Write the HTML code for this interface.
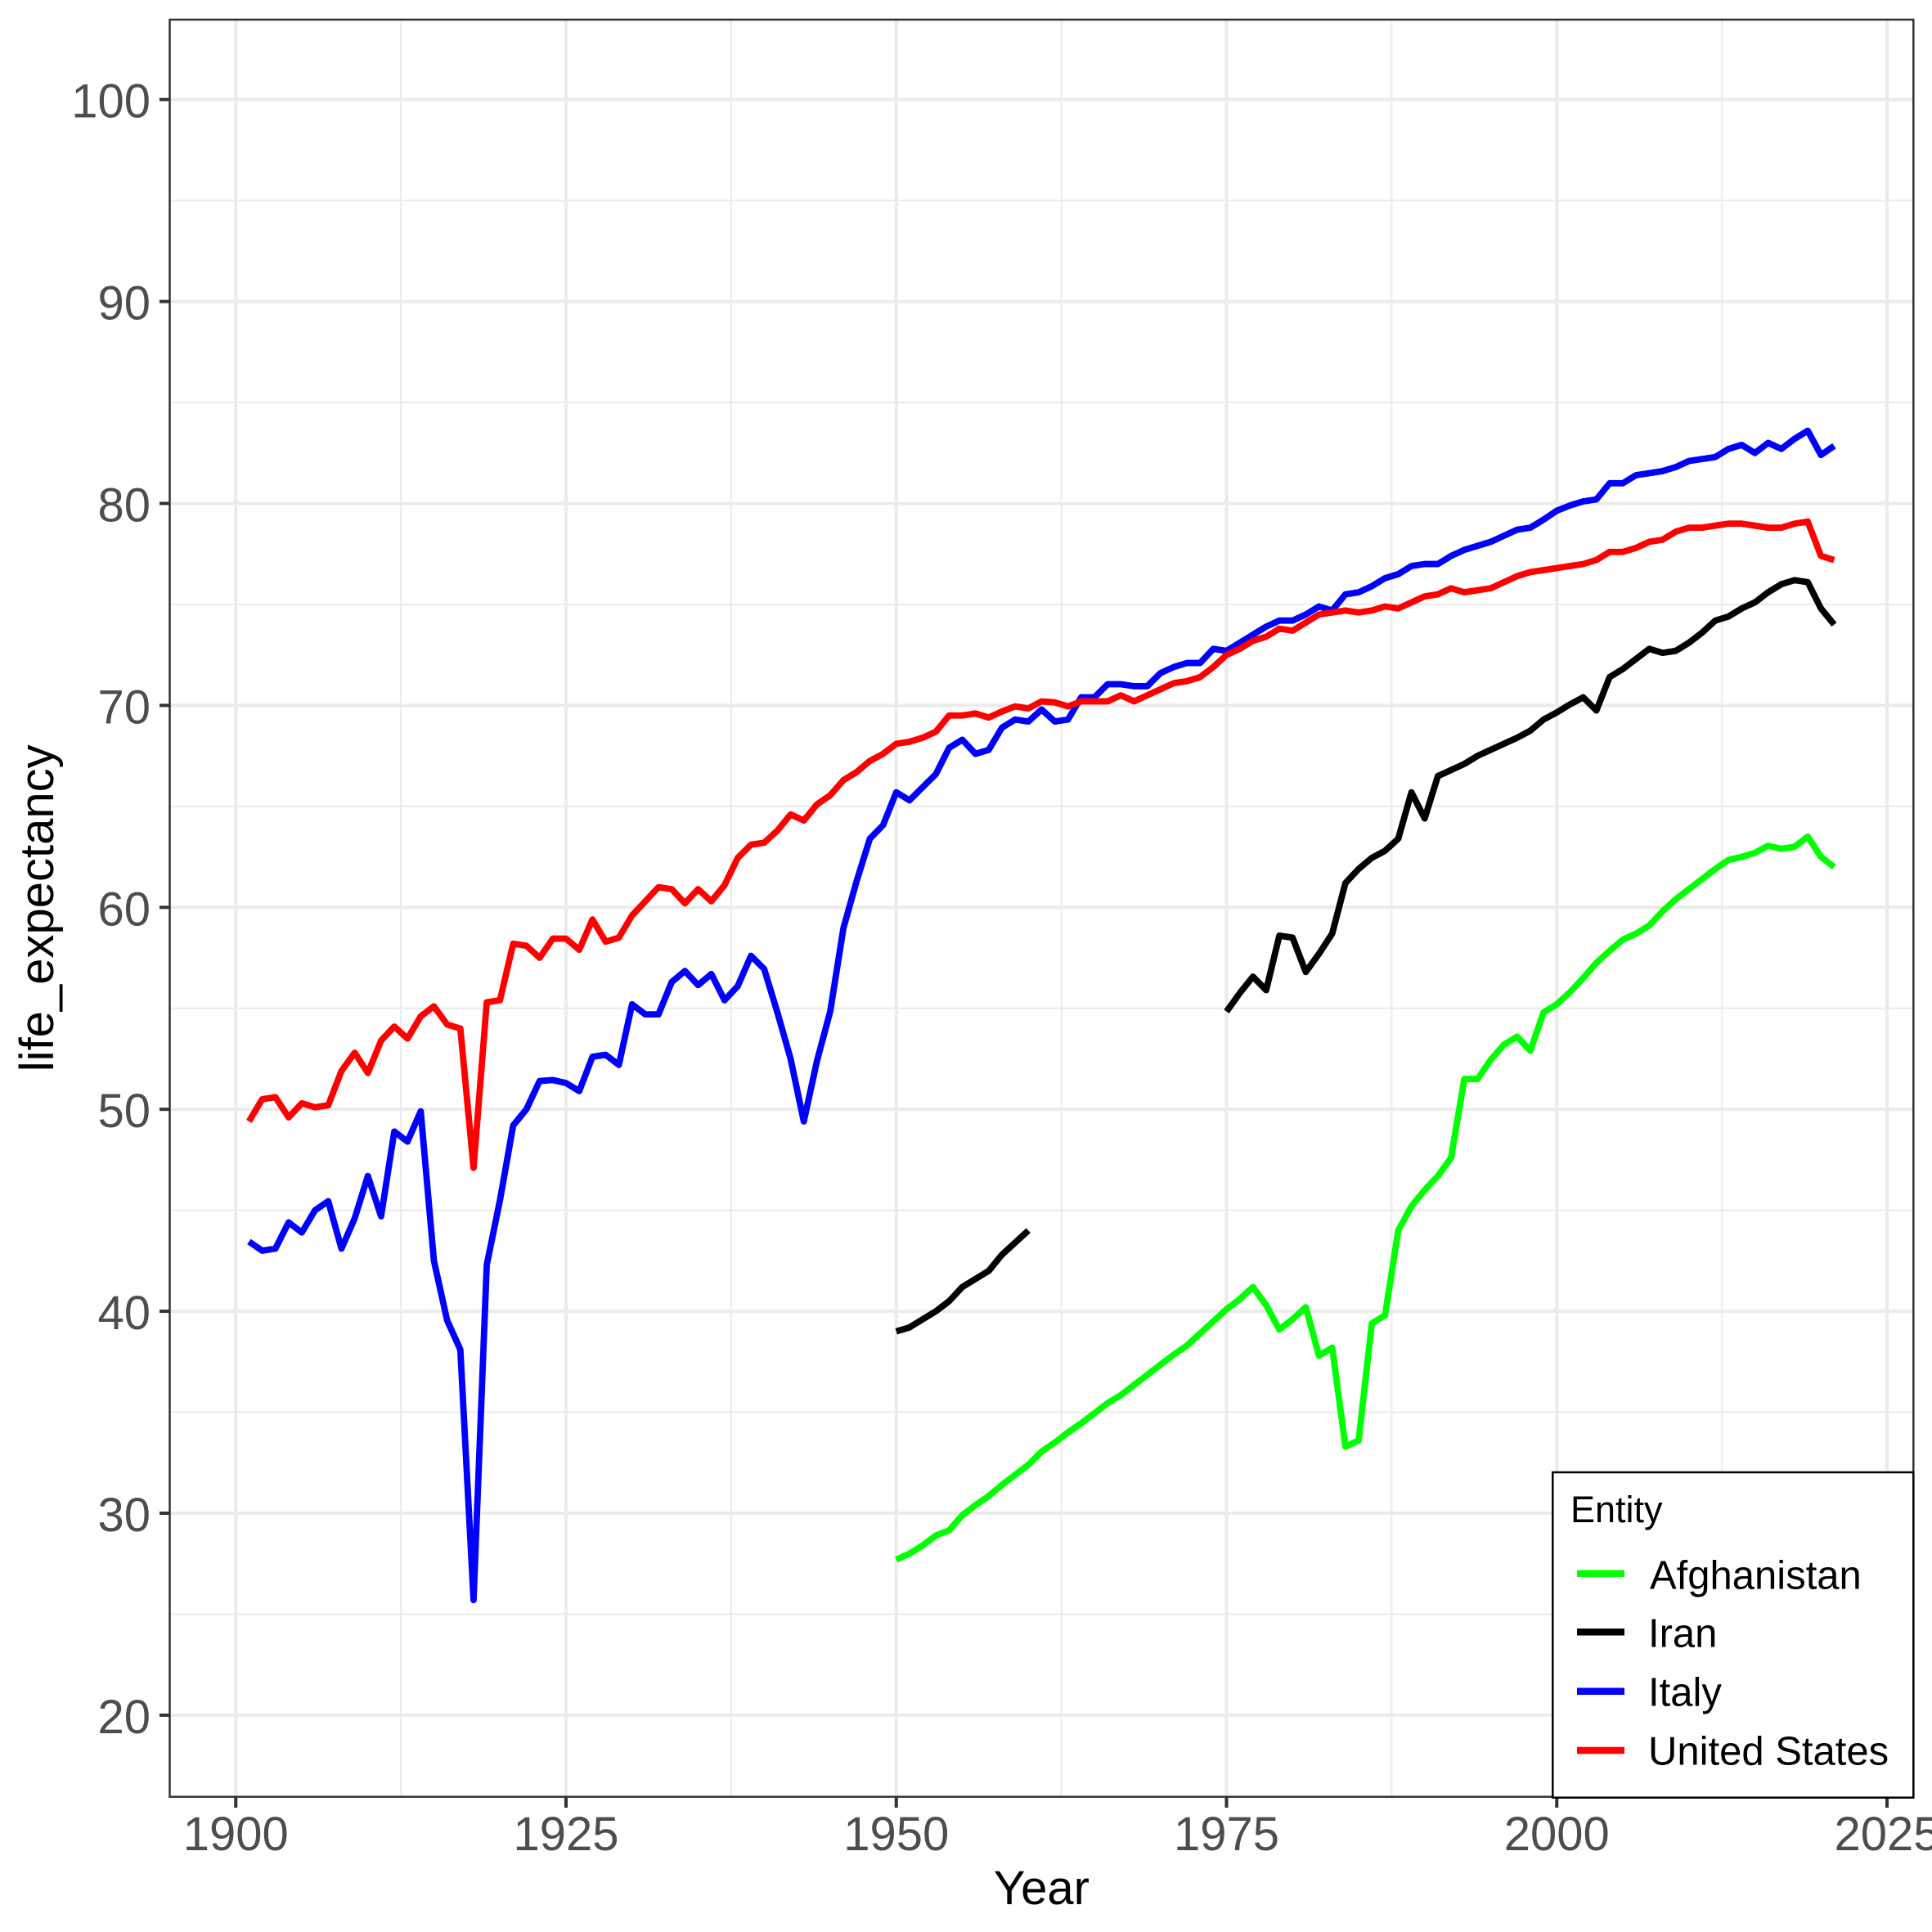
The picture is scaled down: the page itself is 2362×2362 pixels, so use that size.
<!DOCTYPE html>
<html>
<head>
<meta charset="utf-8">
<style>
html,body{margin:0;padding:0;background:#fff;}
svg{display:block;}
text{font-family:"Liberation Sans",Arial,Helvetica,sans-serif;}
</style>
</head>
<body>
<svg width="2362" height="2362" viewBox="0 0 2362 2362" xmlns="http://www.w3.org/2000/svg">
<rect x="0" y="0" width="2362" height="2362" fill="#fff"/>
<rect x="207.5" y="24" width="2131.8" height="2172.7" fill="#fff"/>
<g stroke="#EBEBEB" stroke-width="2" fill="none">
<line x1="207.5" x2="2339.3" y1="245.15" y2="245.15"/>
<line x1="207.5" x2="2339.3" y1="492.05" y2="492.05"/>
<line x1="207.5" x2="2339.3" y1="738.95" y2="738.95"/>
<line x1="207.5" x2="2339.3" y1="985.85" y2="985.85"/>
<line x1="207.5" x2="2339.3" y1="1232.75" y2="1232.75"/>
<line x1="207.5" x2="2339.3" y1="1479.65" y2="1479.65"/>
<line x1="207.5" x2="2339.3" y1="1726.55" y2="1726.55"/>
<line x1="207.5" x2="2339.3" y1="1973.45" y2="1973.45"/>
<line y1="24" y2="2196.7" x1="490.1" x2="490.1"/>
<line y1="24" y2="2196.7" x1="893.9" x2="893.9"/>
<line y1="24" y2="2196.7" x1="1297.6" x2="1297.6"/>
<line y1="24" y2="2196.7" x1="1701.4" x2="1701.4"/>
<line y1="24" y2="2196.7" x1="2105.1" x2="2105.1"/>
</g>
<g stroke="#EBEBEB" stroke-width="4" fill="none">
<line x1="207.5" x2="2339.3" y1="121.7" y2="121.7"/>
<line x1="207.5" x2="2339.3" y1="368.6" y2="368.6"/>
<line x1="207.5" x2="2339.3" y1="615.5" y2="615.5"/>
<line x1="207.5" x2="2339.3" y1="862.4" y2="862.4"/>
<line x1="207.5" x2="2339.3" y1="1109.3" y2="1109.3"/>
<line x1="207.5" x2="2339.3" y1="1356.2" y2="1356.2"/>
<line x1="207.5" x2="2339.3" y1="1603.1" y2="1603.1"/>
<line x1="207.5" x2="2339.3" y1="1850.0" y2="1850.0"/>
<line x1="207.5" x2="2339.3" y1="2096.9" y2="2096.9"/>
<line y1="24" y2="2196.7" x1="288.25" x2="288.25"/>
<line y1="24" y2="2196.7" x1="692.0" x2="692.0"/>
<line y1="24" y2="2196.7" x1="1095.75" x2="1095.75"/>
<line y1="24" y2="2196.7" x1="1499.5" x2="1499.5"/>
<line y1="24" y2="2196.7" x1="1903.25" x2="1903.25"/>
<line y1="24" y2="2196.7" x1="2307.0" x2="2307.0"/>
</g>

<g transform="matrix(16.15 0 0 -24.69 288.25 2590.7)" fill="none" stroke-linejoin="round" stroke-linecap="butt">
<polyline vector-effect="non-scaling-stroke" stroke="#00FF00" stroke-width="7.8" points="50,27.7 51,28.0 52,28.4 53,28.9 54,29.15 55,29.9 56,30.4 57,30.85 58,31.4 59,31.9 60,32.4 61,33.05 62,33.5 63,34.0 64,34.45 65,34.95 66,35.45 67,35.85 68,36.35 69,36.85 70,37.35 71,37.85 72,38.3 73,38.9 74,39.5 75,40.1 76,40.6 77,41.2 78,40.3 79,39.1 80,39.6 81,40.2 82,37.8 83,38.2 84,33.3 85,33.6 86,39.4 87,39.8 88,44.0 89,45.2 90,46.0 91,46.7 92,47.6 93,51.5 94,51.5 95,52.45 96,53.2 97,53.6 98,52.9 99,54.8 100,55.2 101,55.8 102,56.5 103,57.25 104,57.85 105,58.4 106,58.7 107,59.1 108,59.8 109,60.4 110,60.9 111,61.4 112,61.9 113,62.35 114,62.5 115,62.7 116,63.05 117,62.9 118,63.0 119,63.5 120,62.5 121,62.0"/>
<polyline vector-effect="non-scaling-stroke" stroke="#000000" stroke-width="7.8" points="50,39.0 51,39.2 52,39.6 53,40.0 54,40.5 55,41.2 56,41.6 57,42.0 58,42.8 59,43.4 60,44.0"/>
<polyline vector-effect="non-scaling-stroke" stroke="#000000" stroke-width="7.8" points="75,54.84 76,55.75 77,56.57 78,55.9 79,58.6 80,58.5 81,56.8 82,57.7 83,58.7 84,61.2 85,61.9 86,62.45 87,62.8 88,63.4 89,65.7 90,64.4 91,66.5 92,66.8 93,67.1 94,67.5 95,67.8 96,68.1 97,68.4 98,68.75 99,69.3 100,69.65 101,70.05 102,70.4 103,69.75 104,71.4 105,71.8 106,72.3 107,72.8 108,72.6 109,72.7 110,73.1 111,73.6 112,74.2 113,74.4 114,74.8 115,75.1 116,75.6 117,76.0 118,76.2 119,76.1 120,74.8 121,74.0"/>
<polyline vector-effect="non-scaling-stroke" stroke="#0000FF" stroke-width="7.8" points="1,43.45 2,43.0 3,43.1 4,44.4 5,43.9 6,45.0 7,45.45 8,43.1 9,44.6 10,46.7 11,44.7 12,48.9 13,48.4 14,49.9 15,42.5 16,39.55 17,38.1 18,25.7 19,42.3 20,45.5 21,49.2 22,50.0 23,51.4 24,51.45 25,51.3 26,50.9 27,52.6 28,52.7 29,52.2 30,55.2 31,54.7 32,54.7 33,56.3 34,56.85 35,56.15 36,56.7 37,55.4 38,56.1 39,57.6 40,56.95 41,54.8 42,52.5 43,49.4 44,52.4 45,54.85 46,58.97 47,61.3 48,63.4 49,64.07 50,65.7 51,65.3 52,65.95 53,66.6 54,67.9 55,68.3 56,67.6 57,67.8 58,68.9 59,69.3 60,69.2 61,69.8 62,69.2 63,69.3 64,70.4 65,70.4 66,71.05 67,71.05 68,70.95 69,70.95 70,71.6 71,71.9 72,72.1 73,72.1 74,72.8 75,72.7 76,73.1 77,73.5 78,73.9 79,74.2 80,74.2 81,74.5 82,74.9 83,74.7 84,75.5 85,75.6 86,75.9 87,76.3 88,76.5 89,76.9 90,77.0 91,77.0 92,77.4 93,77.7 94,77.9 95,78.1 96,78.4 97,78.7 98,78.8 99,79.2 100,79.64 101,79.9 102,80.1 103,80.2 104,81.0 105,81.0 106,81.4 107,81.5 108,81.6 109,81.8 110,82.1 111,82.2 112,82.3 113,82.7 114,82.9 115,82.5 116,83.0 117,82.7 118,83.2 119,83.6 120,82.4 121,82.85"/>
<polyline vector-effect="non-scaling-stroke" stroke="#FF0000" stroke-width="7.8" points="1,49.4 2,50.5 3,50.6 4,49.6 5,50.3 6,50.1 7,50.2 8,51.9 9,52.8 10,51.8 11,53.4 12,54.1 13,53.5 14,54.6 15,55.1 16,54.2 17,54.0 18,47.1 19,55.3 20,55.4 21,58.2 22,58.1 23,57.5 24,58.45 25,58.45 26,57.9 27,59.4 28,58.3 29,58.5 30,59.6 31,60.3 32,61.0 33,60.9 34,60.2 35,60.9 36,60.3 37,61.1 38,62.45 39,63.1 40,63.2 41,63.8 42,64.6 43,64.3 44,65.1 45,65.55 46,66.3 47,66.7 48,67.25 49,67.6 50,68.1 51,68.2 52,68.4 53,68.7 54,69.5 55,69.5 56,69.6 57,69.4 58,69.7 59,69.95 60,69.85 61,70.2 62,70.15 63,69.95 64,70.2 65,70.2 66,70.2 67,70.5 68,70.2 69,70.5 70,70.8 71,71.1 72,71.2 73,71.4 74,71.9 75,72.5 76,72.8 77,73.2 78,73.4 79,73.8 80,73.7 81,74.1 82,74.5 83,74.6 84,74.7 85,74.6 86,74.7 87,74.9 88,74.8 89,75.1 90,75.4 91,75.5 92,75.8 93,75.6 94,75.7 95,75.8 96,76.1 97,76.4 98,76.6 99,76.7 100,76.8 101,76.9 102,77.0 103,77.2 104,77.6 105,77.6 106,77.8 107,78.1 108,78.2 109,78.6 110,78.8 111,78.8 112,78.9 113,79.0 114,79.0 115,78.9 116,78.8 117,78.8 118,79.0 119,79.1 120,77.4 121,77.2"/>
</g>

<rect x="207.5" y="24" width="2131.8" height="2172.7" fill="none" stroke="#333333" stroke-width="2.5"/>

<g stroke="#333333" stroke-width="4">
<line x1="195" x2="207.5" y1="121.7" y2="121.7"/>
<line x1="195" x2="207.5" y1="368.6" y2="368.6"/>
<line x1="195" x2="207.5" y1="615.5" y2="615.5"/>
<line x1="195" x2="207.5" y1="862.4" y2="862.4"/>
<line x1="195" x2="207.5" y1="1109.3" y2="1109.3"/>
<line x1="195" x2="207.5" y1="1356.2" y2="1356.2"/>
<line x1="195" x2="207.5" y1="1603.1" y2="1603.1"/>
<line x1="195" x2="207.5" y1="1850.0" y2="1850.0"/>
<line x1="195" x2="207.5" y1="2096.9" y2="2096.9"/>
<line y1="2196.7" y2="2210" x1="288.25" x2="288.25"/>
<line y1="2196.7" y2="2210" x1="692.0" x2="692.0"/>
<line y1="2196.7" y2="2210" x1="1095.75" x2="1095.75"/>
<line y1="2196.7" y2="2210" x1="1499.5" x2="1499.5"/>
<line y1="2196.7" y2="2210" x1="1903.25" x2="1903.25"/>
<line y1="2196.7" y2="2210" x1="2307.0" x2="2307.0"/>
</g>

<g fill="#4D4D4D" font-size="58" text-anchor="end">
<text x="184" y="143.7">100</text>
<text x="184" y="390.6">90</text>
<text x="184" y="637.5">80</text>
<text x="184" y="884.4">70</text>
<text x="184" y="1131.3">60</text>
<text x="184" y="1378.2">50</text>
<text x="184" y="1625.1">40</text>
<text x="184" y="1872.0">30</text>
<text x="184" y="2118.9">20</text>
</g>
<g fill="#4D4D4D" font-size="58" text-anchor="middle">
<text x="288.25" y="2262">1900</text>
<text x="692.0" y="2262">1925</text>
<text x="1095.75" y="2262">1950</text>
<text x="1499.5" y="2262">1975</text>
<text x="1903.25" y="2262">2000</text>
<text x="2307.0" y="2262">2025</text>
</g>

<text x="1273.4" y="2328" font-size="58" fill="#000" text-anchor="middle">Year</text>
<text transform="translate(65,1110.3) rotate(-90)" font-size="58" fill="#000" text-anchor="middle">life_expectancy</text>

<rect x="1898.3" y="1800" width="441" height="397.7" fill="#fff" stroke="#000" stroke-width="2.5"/>
<text x="1920" y="1861" font-size="45" fill="#000">Entity</text>
<g stroke-width="8.5" fill="none">
<line x1="1928" x2="1986" y1="1923.7" y2="1923.7" stroke="#00FF00"/>
<line x1="1928" x2="1986" y1="1995.3" y2="1995.3" stroke="#000000"/>
<line x1="1928" x2="1986" y1="2067.7" y2="2067.7" stroke="#0000FF"/>
<line x1="1928" x2="1986" y1="2140" y2="2140" stroke="#FF0000"/>
</g>
<g font-size="49" fill="#000">
<text x="2017" y="1942.3">Afghanistan</text>
<text x="2015" y="2013.3">Iran</text>
<text x="2015" y="2085.7">Italy</text>
<text x="2015" y="2157.7">United States</text>
</g>
</svg>
</body>
</html>
